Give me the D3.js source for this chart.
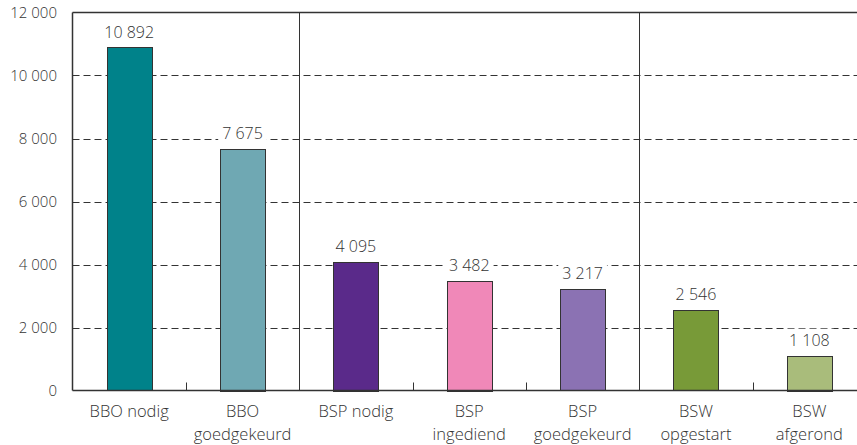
<!DOCTYPE html>
<html><head><meta charset="utf-8">
<script src="https://cdn.jsdelivr.net/npm/d3@7"></script>
<style>body{margin:0;background:#fff}svg{display:block}text{font-family:"Open Sans",sans-serif;font-weight:300;fill:#333}</style>
</head><body><svg id="c" width="857" height="445"></svg>
<script>
const categories = ["BBO nodig","BBO goedgekeurd","BSP nodig","BSP ingediend","BSP goedgekeurd","BSW opgestart","BSW afgerond"];
const labelLines = [["BBO nodig"],["BBO","goedgekeurd"],["BSP nodig"],["BSP","ingediend"],["BSP","goedgekeurd"],["BSW","opgestart"],["BSW","afgerond"]];
const values = [10892,7675,4095,3482,3217,2546,1108];
const valueLabels = ["10 892","7 675","4 095","3 482","3 217","2 546","1 108"];
const colors = ["#00828a","#6fa8b3","#5a2a8a","#f088b8","#8b72b3","#789a38","#a9bc7b"];
const yTicks = [0,2000,4000,6000,8000,10000,12000];
const yTickLabels = ["0","2 000","4 000","6 000","8 000","10 000","12 000"];
const groupSeparators = [2,5];
const minorTicks = [1,3,4,6];

const svg = d3.select("#c");
const L=72.5, R=866, T=12.5, B=390.5;
const x = d3.scaleBand().domain(d3.range(categories.length)).range([L,R]).paddingInner(0.6).paddingOuter(0.3);
const step = (R-L)/categories.length;
const y = d3.scaleLinear().domain([0,12000]).range([B,T]);

svg.append("g").selectAll("line").data(yTicks.filter(d=>d>0&&d<12000)).join("line")
  .attr("x1",L).attr("x2",857).attr("y1",d=>Math.round(y(d))+0.5).attr("y2",d=>Math.round(y(d))+0.5)
  .attr("stroke","#333").attr("stroke-width",1).attr("stroke-dasharray","7,4");

svg.append("g").selectAll("line").data(groupSeparators).join("line")
  .attr("x1",d=>Math.round(L+d*step)+0.5).attr("x2",d=>Math.round(L+d*step)+0.5)
  .attr("y1",T).attr("y2",B).attr("stroke","#333").attr("stroke-width",1);

svg.append("g").selectAll("line").data(minorTicks).join("line")
  .attr("x1",d=>Math.round(L+d*step)+0.5).attr("x2",d=>Math.round(L+d*step)+0.5)
  .attr("y1",B-8).attr("y2",B).attr("stroke","#333").attr("stroke-width",1);

svg.append("g").selectAll("rect").data(values).join("rect")
  .attr("x",(d,i)=>Math.round(x(i))+0.5).attr("width",Math.round(x.bandwidth()))
  .attr("y",d=>Math.round(y(d))+0.5).attr("height",d=>Math.round(B-y(d)))
  .attr("fill",(d,i)=>colors[i]).attr("stroke","#333").attr("stroke-width",1);

const vl = svg.append("g").selectAll("g").data(values).join("g")
  .attr("transform",(d,i)=>`translate(${x(i)+x.bandwidth()/2},${y(d)-15.5})`);
vl.each(function(d,i){
  const g=d3.select(this);
  const t=g.append("text").attr("text-anchor","middle").attr("dy","0.35em").attr("font-size",16).text(valueLabels[i]);
  const bb=t.node().getBBox();
  g.insert("rect","text").attr("x",bb.x-4).attr("y",bb.y).attr("width",bb.width+8).attr("height",bb.height).attr("fill","#fff");
});

svg.append("line").attr("x1",L).attr("x2",857).attr("y1",T).attr("y2",T).attr("stroke","#333").attr("stroke-width",1.5);
svg.append("line").attr("x1",L).attr("x2",L).attr("y1",T).attr("y2",B).attr("stroke","#333").attr("stroke-width",1.5);
svg.append("line").attr("x1",L).attr("x2",857).attr("y1",B).attr("y2",B).attr("stroke","#333").attr("stroke-width",1.5);

svg.append("g").selectAll("text").data(yTicks).join("text")
  .attr("x",57).attr("y",d=>y(d)).attr("dy","0.35em").attr("text-anchor","end").attr("font-size",15)
  .text((d,i)=>yTickLabels[i]);

const cl = svg.append("g").selectAll("text").data(labelLines).join("text")
  .attr("text-anchor","middle").attr("font-size",16.5)
  .attr("transform",(d,i)=>`translate(${x(i)+x.bandwidth()/2},0)`);
cl.selectAll("tspan").data(d=>d).join("tspan").attr("x",0).attr("y",(d,j)=>417+j*23).text(d=>d);
</script></body></html>
